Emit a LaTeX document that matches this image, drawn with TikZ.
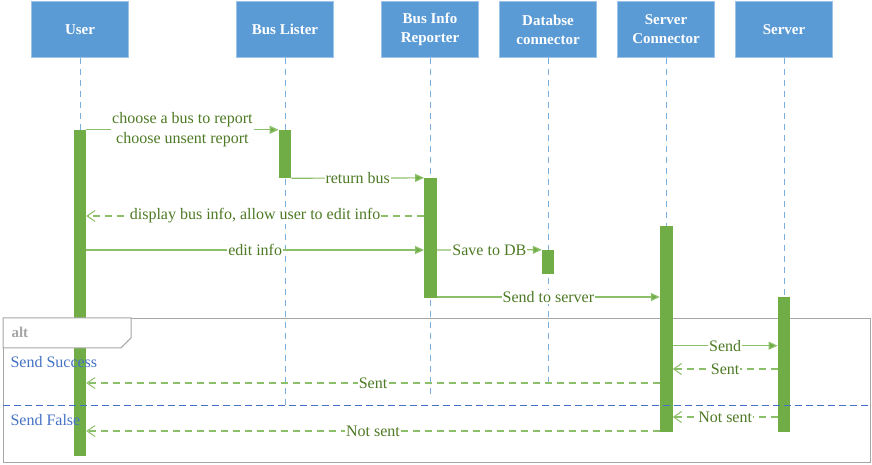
\documentclass[tikz,border=0pt]{standalone}
\usepackage{fontspec}
\setmainfont{Liberation Serif}
\usepackage{xcolor}
\usepackage{tikz}
\usetikzlibrary{arrows.meta, positioning}
\definecolor{hdrblue}{HTML}{5B9BD5}
\definecolor{actgreen}{HTML}{70AD47}
\definecolor{msggreen}{HTML}{8CBF69}
\definecolor{txtgreen}{HTML}{4E7A25}
\definecolor{altgray}{HTML}{A6A6A6}
\definecolor{altblue}{HTML}{4472C4}
\tikzstyle{msg} = [msggreen, line width=1.2pt, -{Triangle[length=9pt,width=8pt,fill=actgreen]}]
\tikzstyle{ret} = [msggreen, line width=1.2pt, dash pattern=on 7pt off 5pt, -{Straight Barb[length=8pt,width=11pt,line width=1pt]}]
\tikzset{every node/.style={align=center}}

\begin{document}
\begin{tikzpicture}[x=1pt, y=-1pt,
    hdr/.style={rectangle, fill=hdrblue, draw=hdrblue!60, text=white,
                minimum width=97pt, minimum height=56pt, inner sep=1pt,
                font=\fontsize{15}{19}\selectfont\bfseries},
    act/.style={rectangle, fill=actgreen, draw=none, minimum width=12.5pt, inner sep=0pt},
    lbl/.style={fill=white, inner sep=1pt, text=txtgreen, font=\fontsize{16}{20}\selectfont},
    life/.style={hdrblue!80, line width=1pt, dash pattern=on 6pt off 5pt}
]
  \useasboundingbox (0,0) rectangle (872,464);

  % --- Lifeline heads ---
  \node[hdr] (U)   at (80,  29.5) {User};
  \node[hdr] (BL)  at (285, 29.5) {Bus Lister};
  \node[hdr] (BIR) at (430, 29.5) {Bus Info\\Reporter};
  \node[hdr] (DB)  at (548, 29.5) {Databse\\connector};
  \node[hdr] (SC)  at (666, 29.5) {Server\\Connector};
  \node[hdr] (SV)  at (784, 29.5) {Server};

  % --- Lifelines ---
  \coordinate (eU)   at (80,  130);
  \coordinate (eBL)  at (285, 406);
  \coordinate (eBIR) at (430, 397);
  \coordinate (eDB)  at (548, 383);
  \coordinate (eSC)  at (666, 226);
  \coordinate (eSV)  at (784, 297);
  \foreach \h in {U, BL, BIR, DB, SC, SV}
    \draw[life] (\h.south) -- (e\h);

  % --- Alt frame (behind the bars) ---
  \node[rectangle, draw=altgray, line width=1pt, minimum width=867pt,
        minimum height=144.5pt, inner sep=0pt] (alt) at (437,390.6) {};

  % --- Activation bars ---
  \node[act, minimum height=326pt]   (aU)   at (79.8, 293)   {};
  \node[act, minimum height=48pt]    (aBL)  at (285,  154)   {};
  \node[act, minimum height=119.5pt] (aBIR) at (430.5,237.8) {};
  \node[act, minimum height=24pt]    (aDB)  at (548.2,262)   {};
  \node[act, minimum height=206pt]   (aSC)  at (666.3,328.7) {};
  \node[act, minimum height=134.4pt] (aSV)  at (784,  364.5) {};

  % --- Alt tab and operands ---
  \draw[altgray, fill=white, line width=1pt] (alt.north west) -- ++(128,0) -- ++(0,20)
    -- ++(-10,10) -- ++(-118,0) -- cycle;
  \node[anchor=west, text=altgray, font=\fontsize{15}{17}\selectfont\bfseries] (altname)
    at ([xshift=5pt,yshift=-15pt]alt.north west) {alt};
  \coordinate (sep) at (0,405.7);
  \draw[altblue, line width=1pt, dash pattern=on 7pt off 4pt] (alt.west |- sep) -- (alt.east |- sep);
  \node[anchor=west, text=altblue, font=\fontsize{16}{18}\selectfont] (okcase)
    at ([xshift=4pt,yshift=-44pt]alt.north west) {Send Success};
  \node[anchor=west, text=altblue, font=\fontsize{16}{18}\selectfont] (failcase)
    at ([xshift=4pt,yshift=-14pt]alt.west |- sep) {Send False};

  % --- Messages ---
  \coordinate (r3) at (0,216);
  \coordinate (r4) at (0,250);
  \coordinate (r6) at (0,297);
  \coordinate (r7) at (0,345.7);
  \coordinate (r8) at (0,369);
  \coordinate (r9) at (0,383);
  \coordinate (r10) at (0,417);
  \coordinate (r11) at (0,431);
  \draw[msg] (aU.north east) -- node[lbl]{choose a bus to report\\choose unsent report} (aBL.north west);
  \draw[msg] (aBL.south east) -- node[lbl]{return bus} (aBIR.north west);
  \draw[ret] (aBIR.west |- r3) -- node[lbl]{display bus info, allow user to edit info} (aU.east |- r3);
  \draw[msg] (aU.east |- r4) -- node[lbl]{edit info} (aBIR.west |- r4);
  \draw[msg] (aBIR.east |- r4) -- node[lbl]{Save to DB} (aDB.north west);
  \draw[msg] (aBIR.east |- r6) -- node[lbl]{Send to server} (aSC.west |- r6);
  \draw[msg] (aSC.east |- r7) -- node[lbl]{Send} (aSV.west |- r7);
  \draw[ret] (aSV.west |- r8) -- node[lbl]{Sent} (aSC.east |- r8);
  \draw[ret] (aSC.west |- r9) -- node[lbl]{Sent} (aU.east |- r9);
  \draw[ret] (aSV.west |- r10) -- node[lbl]{Not sent} (aSC.east |- r10);
  \draw[ret] (aSC.west |- r11) -- node[lbl]{Not sent} (aU.east |- r11);
\end{tikzpicture}
\end{document}
